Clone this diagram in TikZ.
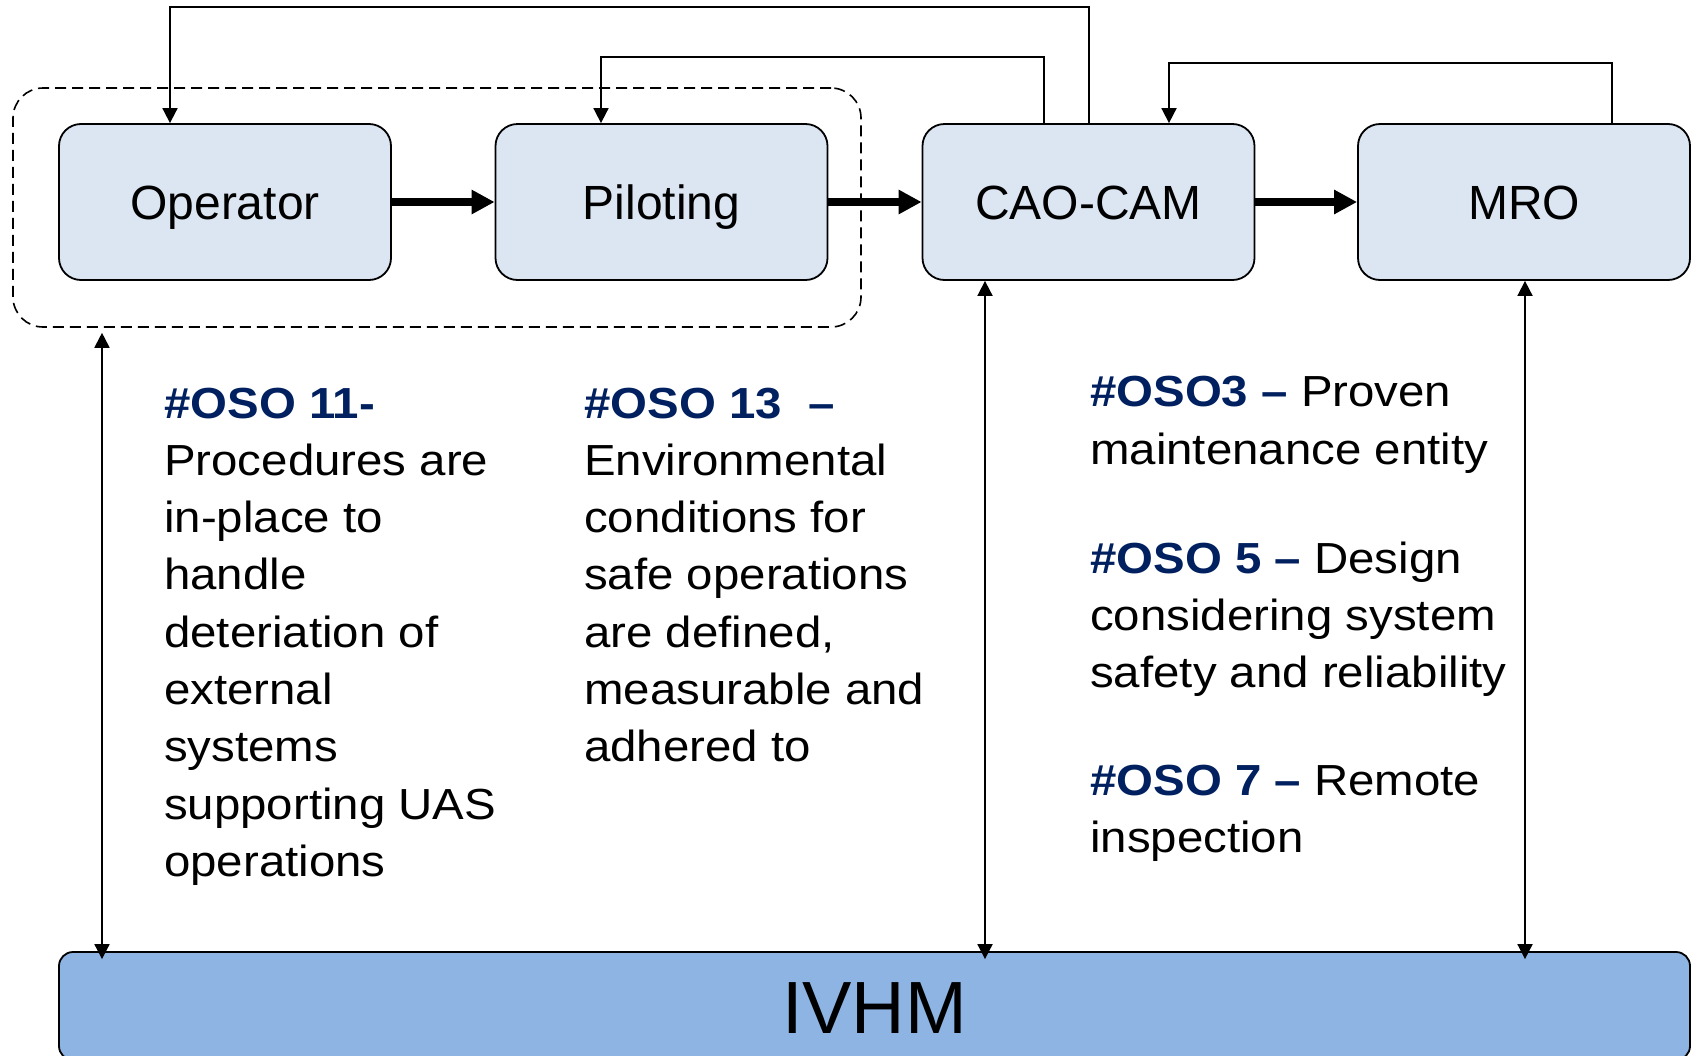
\documentclass[tikz,border=0pt]{standalone}
\usepackage{fontspec}
\setmainfont{Liberation Sans}
\newfontfamily\bodyfont[FakeStretch=1.09]{Liberation Sans}
\usetikzlibrary{arrows.meta}
\definecolor{boxfill}{HTML}{DCE6F2}
\definecolor{ivhmfill}{HTML}{8EB4E3}
\definecolor{navy}{HTML}{002060}
\tikzset{
  procbox/.style={draw, line width=1.8pt, fill=boxfill, rounded corners=22pt,
    minimum width=332pt, minimum height=156pt, inner sep=0pt,
    font=\fontsize{48}{58}\selectfont, text height=35pt, text depth=0pt},
  ivhmbox/.style={draw, line width=1.8pt, fill=ivhmfill, rounded corners=14pt,
    minimum width=1631pt, minimum height=108pt, inner sep=0pt,
    font=\fontsize{74}{80}\selectfont, text height=54pt, text depth=0pt},
  groupbox/.style={draw, line width=1.6pt, dash pattern=on 11pt off 6pt,
    rounded corners=30pt, minimum width=848pt, minimum height=239pt, inner sep=0pt},
  conn/.style={line width=1.8pt, -{Triangle[length=15pt,width=15pt]}},
  dconn/.style={line width=1.8pt, {Triangle[length=15pt,width=15pt]}-{Triangle[length=15pt,width=15pt]}},
  flow/.style={line width=7.7pt, -{Triangle[length=23pt,width=23pt]}},
  bodytext/.style={font=\bodyfont\fontsize{43.5}{57.3}\selectfont, align=left,
    inner sep=0pt, anchor=base west}
}
\newcommand{\osotag}[1]{{\bfseries\color{navy}#1}}
\begin{document}
\begin{tikzpicture}[x=1pt,y=-1pt]
\useasboundingbox[fill=white] (0,0) rectangle (1691,1055);

% group (dashed)
\node[groupbox] (grp) at (437,207.5) {};

% process boxes
\node[procbox] (op)  at (225,202)    {Operator};
\node[procbox] (pil) at (661.5,202)  {Piloting};
\node[procbox] (cao) at (1088.5,202) {CAO-CAM};
\node[procbox] (mro) at (1524,202)   {MRO};

% IVHM bar
\node[ivhmbox] (ivhm) at (874.5,1006) {IVHM};

% main flow arrows
\draw[flow] (op.east) -- (pil.west);
\draw[flow] (pil.east) -- (cao.west);
\draw[flow] (cao.east) -- (mro.west);

% feedback connectors along the top
\coordinate (t1) at (1089,7);
\coordinate (t2) at (1044,57);
\coordinate (t3) at (1612,63);
\draw[conn] (cao.north -| t1) -- (t1) -| ([xshift=-55pt]op.north);
\draw[conn] (cao.north -| t2) -- (t2) -| ([xshift=-60.5pt]pil.north);
\draw[conn] (mro.north -| t3) -- (t3) -| ([xshift=80.5pt]cao.north);

% vertical links to IVHM
\coordinate (v1) at (102,0);
\coordinate (v2) at (985,0);
\coordinate (v3) at (1525,0);
\draw[dconn] ([yshift=-5pt]grp.south -| v1) -- ([yshift=-8pt]ivhm.north -| v1);
\draw[dconn] (cao.south -| v2) -- ([yshift=-8pt]ivhm.north -| v2);
\draw[dconn] (mro.south -| v3) -- ([yshift=-8pt]ivhm.north -| v3);

% texts (anchor = baseline of the last line)
\node[bodytext] (oso11) at (164,876.4) {\osotag{\#OSO 11-}\\Procedures are\\in-place to\\handle\\deteriation of\\external\\systems\\supporting UAS\\operations};
\node[bodytext] (oso13) at (584,761.8) {\osotag{\#OSO 13\ \ –}\\Environmental\\conditions for\\safe operations\\are defined,\\measurable and\\adhered to};
\node[bodytext] (oso3) at (1090,464) {\osotag{\#OSO3 –} Proven\\maintenance entity};
\node[bodytext] (oso5) at (1090,687.9) {\osotag{\#OSO 5 –} Design\\considering system\\safety and reliability};
\node[bodytext] (oso7) at (1090,852.3) {\osotag{\#OSO 7 –} Remote\\inspection};
\end{tikzpicture}
\end{document}
